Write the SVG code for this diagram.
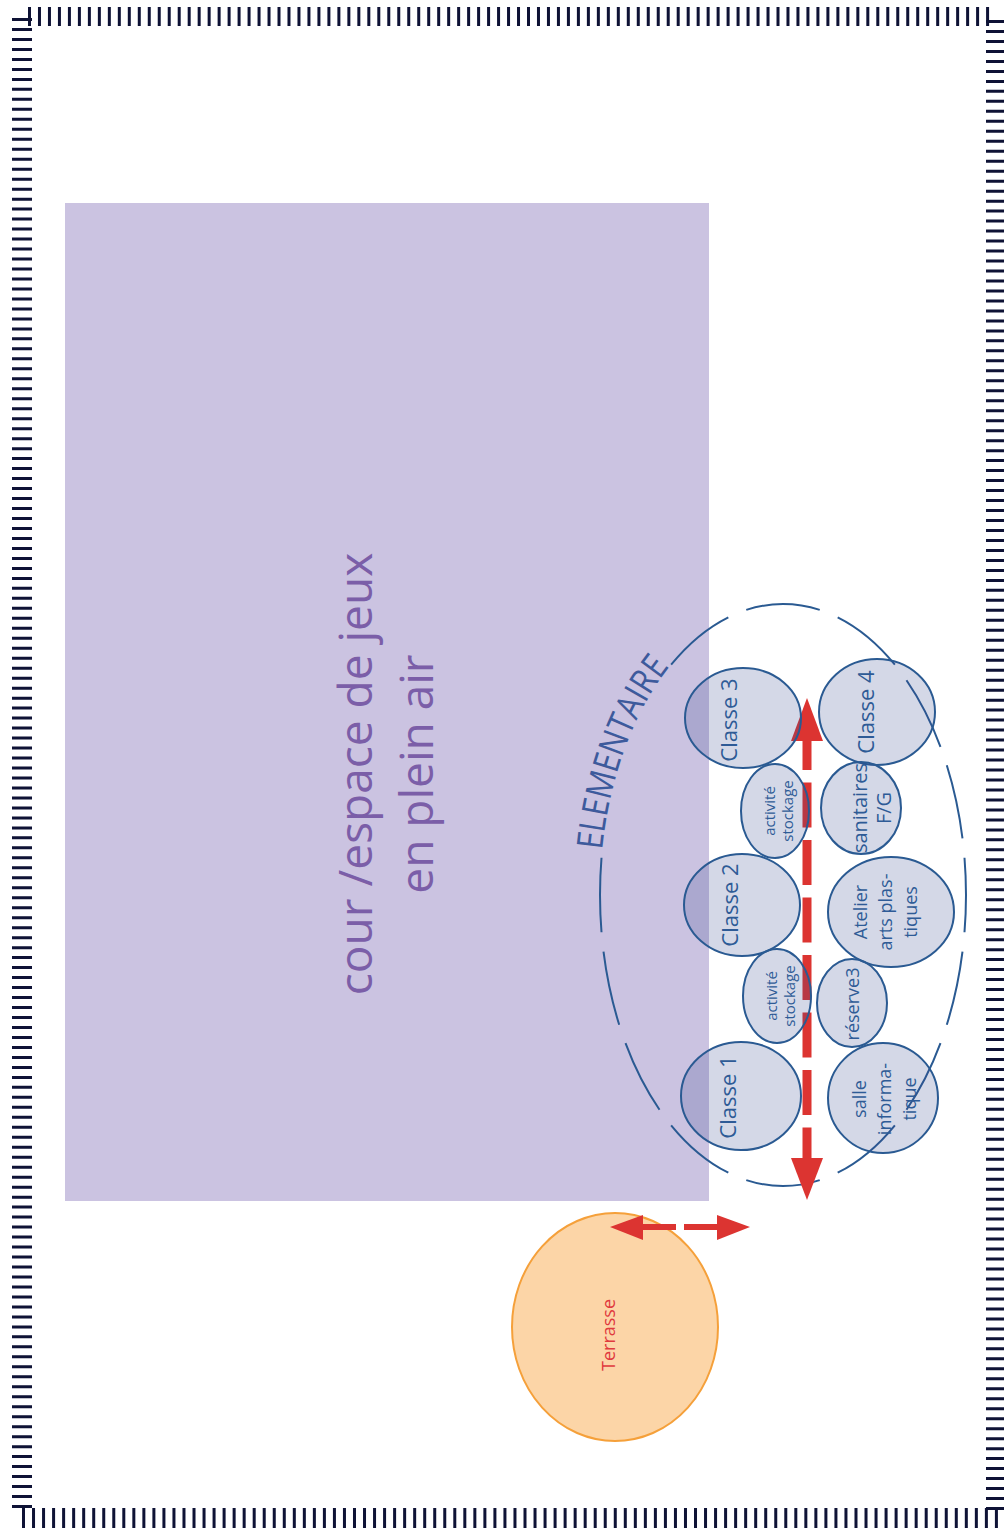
<svg xmlns="http://www.w3.org/2000/svg" width="1004" height="1536" viewBox="0 0 1004 1536">
<style>
.frame{fill:none;stroke:#0e1235;stroke-width:20;stroke-dasharray:3 6.98}
.room{fill:#32458d;fill-opacity:0.21;stroke:#2a5a92;stroke-width:2}
.lbl{font-family:"Open Sans","Noto Sans",sans-serif;fill:#2e5b96;text-anchor:middle}
.red{fill:#dc3431}
</style>
<rect width="1004" height="1536" fill="#ffffff"/>
<g id="frame">
<line class="frame" x1="28" y1="16.5" x2="992" y2="16.5" style="stroke-width:19"/>
<line class="frame" x1="22" y1="18" x2="22" y2="1512"/>
<line class="frame" x1="996" y1="20" x2="996" y2="1511"/>
<line class="frame" x1="22" y1="1518" x2="1001" y2="1518" style="stroke-dasharray:3 7.03"/>
</g>
<g id="cour">
<rect x="65" y="203" width="644" height="998" fill="#cbc3e1"/>
<text transform="translate(372,774) rotate(-90)" font-family="'Open Sans','Noto Sans',sans-serif" font-size="46" fill="#7b5ea8" text-anchor="middle">cour /espace de jeux<tspan x="0" dy="61">en plein air</tspan></text>
</g>
<g id="elementaire">
<path d="M966 895 A183 291 0 0 1 600 895 A183 291 0 0 1 966 895 Z" fill="none" stroke="#2a5a92" stroke-width="2" pathLength="1512" stroke-dasharray="37.5 19.5 75 19.5 75 19.5 75 19.5 75 19.5 75 19.5 75 19.5 75 19.5 75 208.5 75 19.5 75 19.5 75 19.5 75 19.5 75 19.5 37.5"/>
<path id="elPath" d="M600 895 A183 291 0 0 1 783 604" fill="none"/>
<text font-family="'Open Sans','Noto Sans',sans-serif" font-size="36" fill="#3d5a9c"><textPath href="#elPath" startOffset="45" textLength="198" lengthAdjust="spacingAndGlyphs">ELEMENTAIRE</textPath></text>
</g>
<g id="terrasse">
<ellipse cx="615" cy="1327" rx="103" ry="114" fill="#fcd5a7" stroke="#f5a03a" stroke-width="2"/>
<text transform="translate(615,1335) rotate(-90)" font-family="'Open Sans','Noto Sans',sans-serif" font-size="18" fill="#e03a3e" text-anchor="middle">Terrasse</text>
</g>
<g id="connectors">
<line x1="807" y1="741" x2="807" y2="1158" stroke="#dc3431" stroke-width="9" stroke-dasharray="45 12.5" stroke-dashoffset="16"/>
<polygon class="red" points="807,698 791,741 823,741"/>
<polygon class="red" points="791,1158 823,1158 807,1200"/>
<polygon class="red" points="610,1227 643,1215 643,1240"/>
<rect class="red" x="643" y="1224" width="33" height="6"/>
<rect class="red" x="684" y="1224" width="33" height="6"/>
<polygon class="red" points="717,1215 717,1240 750,1227"/>
</g>
<g id="classe3">
<ellipse class="room" cx="743" cy="718" rx="58" ry="50"/>
<text class="lbl" font-size="22" transform="translate(737,720) rotate(-90)">Classe 3</text>
</g>
<g id="classe4">
<ellipse class="room" cx="877" cy="712" rx="58" ry="53"/>
<text class="lbl" font-size="22" transform="translate(874,712) rotate(-90)">Classe 4</text>
</g>
<g id="activite1">
<ellipse class="room" cx="775" cy="811" rx="34" ry="47"/>
<text class="lbl" font-size="15" transform="translate(775,811) rotate(-90)">activité<tspan x="0" dy="18">stockage</tspan></text>
</g>
<g id="sanitaires">
<ellipse class="room" cx="861" cy="808" rx="40" ry="46"/>
<text class="lbl" font-size="20" transform="translate(867,808) rotate(-90)">sanitaires<tspan x="0" dy="24">F/G</tspan></text>
</g>
<g id="classe2">
<ellipse class="room" cx="742" cy="905" rx="58" ry="51"/>
<text class="lbl" font-size="22" transform="translate(738,905) rotate(-90)">Classe 2</text>
</g>
<g id="atelier">
<ellipse class="room" cx="891" cy="912" rx="63" ry="55"/>
<text class="lbl" font-size="18" transform="translate(867,912) rotate(-90)">Atelier<tspan x="0" dy="25">arts plas-</tspan><tspan x="0" dy="25">tiques</tspan></text>
</g>
<g id="activite2">
<ellipse class="room" cx="777" cy="996" rx="34" ry="47"/>
<text class="lbl" font-size="15" transform="translate(777,996) rotate(-90)">activité<tspan x="0" dy="18">stockage</tspan></text>
</g>
<g id="reserve3">
<ellipse class="room" cx="852" cy="1003" rx="35" ry="44"/>
<text class="lbl" font-size="18" transform="translate(859,1004) rotate(-90)">réserve3</text>
</g>
<g id="classe1">
<ellipse class="room" cx="741" cy="1096" rx="60" ry="54"/>
<text class="lbl" font-size="22" transform="translate(736,1097) rotate(-90)">Classe 1</text>
</g>
<g id="informatique">
<ellipse class="room" cx="883" cy="1098" rx="55" ry="55"/>
<text class="lbl" font-size="18" transform="translate(866,1099) rotate(-90)">salle<tspan x="0" dy="25">informa-</tspan><tspan x="0" dy="25">tique</tspan></text>
</g>
</svg>
